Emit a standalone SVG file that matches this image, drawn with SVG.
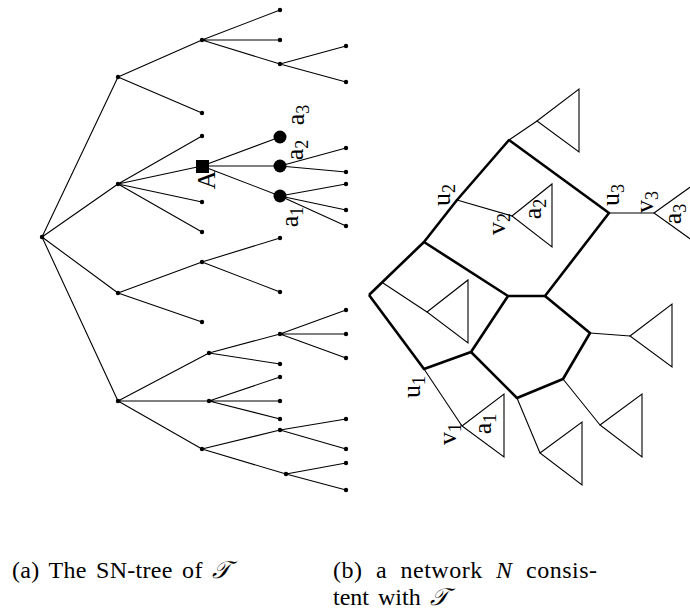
<svg xmlns="http://www.w3.org/2000/svg" width="690" height="612" viewBox="0 0 690 612">
<style>
.e{stroke:#000;stroke-width:1.1;fill:none}
.t{stroke:#000;stroke-width:2.6;fill:none;stroke-linejoin:round}
.tri{stroke:#000;stroke-width:1.1;fill:none}
.d{fill:#000}
.lb{font-family:"Liberation Serif","DejaVu Serif",serif;font-size:26px;fill:#000}
.sb{font-size:18px}
.cap{font-family:"Liberation Serif","DejaVu Serif",serif;font-size:24px;fill:#000}
</style>
<rect width="690" height="612" fill="#fff"/>
<g id="connectors">
<g id="tree-edges" class="e">
<path d="M42 237L118 77M42 237L118 184M42 237L118 293M42 237L118 401"/>
<path d="M118 77L202 40M118 77L202 113M202 40L280 10M202 40L280 40M202 40L280 64M280 64L346 46M280 64L346 82"/>
<path d="M118 184L202 136M118 184L202 166M118 184L202 202M118 184L202 232"/>
<path d="M202 166L280 137M202 166L280 166M202 166L280 196M280 166L346 148M280 166L346 172M280 196L346 184M280 196L346 210M280 196L346 226"/>
<path d="M118 293L202 262M118 293L202 322M202 262L280 238M202 262L280 292"/>
<path d="M118 401L209 353M118 401L209 401M118 401L202 449M209 353L280 334M209 353L280 364M280 334L346 310M280 334L346 334M280 334L346 358"/>
<path d="M209 401L280 377M209 401L280 401M209 401L280 419M202 449L280 430M202 449L286 474M280 430L346 419M280 430L346 449M286 474L346 463M286 474L346 490"/>
</g>
<g id="network-edges">
<path class="t" d="M369 295L424 242L457 200L509 140L609 213L545 296L508 296L424 242"/>
<path class="t" d="M369 295L424 369L471 352L508 296"/>
<path class="t" d="M545 296L590 333L563 379L517 398L471 352"/>
<path class="e" d="M383 283L427 312M509 140L537 121M457 200L512 216M609 213L654 213M590 333L630 336M563 379L600 425M517 398L540 453M424 369L462 426"/>
</g>
</g>
<g id="tree-nodes" class="d">
<g id="root"><circle cx="42" cy="237" r="2.2"/></g>
<g id="n-l1"><circle cx="118" cy="77" r="2.2"/><circle cx="118" cy="184" r="2.2"/><circle cx="118" cy="293" r="2.2"/><circle cx="118" cy="401" r="2.2"/></g>
<g id="n-l2"><circle cx="202" cy="40" r="2.2"/><circle cx="202" cy="113" r="2.2"/><circle cx="202" cy="136" r="2.2"/><circle cx="202" cy="202" r="2.2"/><circle cx="202" cy="232" r="2.2"/><circle cx="202" cy="262" r="2.2"/><circle cx="202" cy="322" r="2.2"/><circle cx="209" cy="353" r="2.2"/><circle cx="209" cy="401" r="2.2"/><circle cx="202" cy="449" r="2.2"/></g>
<g id="n-l3"><circle cx="280" cy="10" r="2.2"/><circle cx="280" cy="40" r="2.2"/><circle cx="280" cy="64" r="2.2"/><circle cx="280" cy="238" r="2.2"/><circle cx="280" cy="292" r="2.2"/><circle cx="280" cy="334" r="2.2"/><circle cx="280" cy="364" r="2.2"/><circle cx="280" cy="377" r="2.2"/><circle cx="280" cy="401" r="2.2"/><circle cx="280" cy="419" r="2.2"/><circle cx="280" cy="430" r="2.2"/><circle cx="286" cy="474" r="2.2"/></g>
<g id="n-l4"><circle cx="346" cy="46" r="2.2"/><circle cx="346" cy="82" r="2.2"/><circle cx="346" cy="148" r="2.2"/><circle cx="346" cy="172" r="2.2"/><circle cx="346" cy="184" r="2.2"/><circle cx="346" cy="210" r="2.2"/><circle cx="346" cy="226" r="2.2"/><circle cx="346" cy="310" r="2.2"/><circle cx="346" cy="334" r="2.2"/><circle cx="346" cy="358" r="2.2"/><circle cx="346" cy="419" r="2.2"/><circle cx="346" cy="449" r="2.2"/><circle cx="346" cy="463" r="2.2"/><circle cx="346" cy="490" r="2.2"/></g>
<g id="node-A"><rect x="196" y="160" width="13" height="13"/><text class="lb" transform="translate(215,180) rotate(-90)" text-anchor="middle">A</text></g>
<g id="node-a3"><circle cx="280" cy="137" r="6.5"/><text class="lb" transform="translate(304,115) rotate(-90)" text-anchor="middle">a<tspan class="sb" dy="5">3</tspan></text></g>
<g id="node-a2"><circle cx="280" cy="166" r="6.5"/><text class="lb" transform="translate(303,150) rotate(-90)" text-anchor="middle">a<tspan class="sb" dy="5">2</tspan></text></g>
<g id="node-a1"><circle cx="280" cy="196" r="6.5"/><text class="lb" transform="translate(298,217) rotate(-90)" text-anchor="middle">a<tspan class="sb" dy="5">1</tspan></text></g>
</g>
<g id="network-nodes">
<g id="tri-left"><polygon class="tri" points="427,312 468,280 468,343"/></g>
<g id="tri-top"><polygon class="tri" points="537,121 579,89 579,152"/></g>
<g id="tri-a2"><polygon class="tri" points="512,216 552,184 552,247"/><text class="lb" transform="translate(541,209) rotate(-90)" text-anchor="middle">a<tspan class="sb" dy="5">2</tspan></text></g>
<g id="tri-a3"><polygon class="tri" points="654,213 696,183 696,243"/><text class="lb" transform="translate(681,214) rotate(-90)" text-anchor="middle">a<tspan class="sb" dy="5">3</tspan></text></g>
<g id="tri-right"><polygon class="tri" points="630,336 672,304 672,367"/></g>
<g id="tri-br"><polygon class="tri" points="600,425 642,394 642,457"/></g>
<g id="tri-bm"><polygon class="tri" points="540,453 582,422 582,485"/></g>
<g id="tri-a1"><polygon class="tri" points="462,426 504,394 504,457"/><text class="lb" transform="translate(491,424) rotate(-90)" text-anchor="middle">a<tspan class="sb" dy="5">1</tspan></text></g>
<g id="u1"><text class="lb" transform="translate(420,387) rotate(-90)" text-anchor="middle">u<tspan class="sb" dy="5">1</tspan></text></g>
<g id="v1"><text class="lb" transform="translate(456,434) rotate(-90)" text-anchor="middle">v<tspan class="sb" dy="5">1</tspan></text></g>
<g id="u2"><text class="lb" transform="translate(450,195) rotate(-90)" text-anchor="middle">u<tspan class="sb" dy="5">2</tspan></text></g>
<g id="v2"><text class="lb" transform="translate(505,224) rotate(-90)" text-anchor="middle">v<tspan class="sb" dy="5">2</tspan></text></g>
<g id="u3"><text class="lb" transform="translate(619,195) rotate(-90)" text-anchor="middle">u<tspan class="sb" dy="5">3</tspan></text></g>
<g id="v3"><text class="lb" transform="translate(653,202) rotate(-90)" text-anchor="middle">v<tspan class="sb" dy="5">3</tspan></text></g>
</g>
<g id="captions">
<text class="cap" x="12" y="578" word-spacing="3" textLength="218" lengthAdjust="spacing">(a) The SN-tree of <tspan font-style="italic">𝒯</tspan></text>
<text class="cap" x="333" y="578" word-spacing="7" textLength="264" lengthAdjust="spacing">(b) a network <tspan font-style="italic">N</tspan> consis-</text>
<text class="cap" x="333" y="605" word-spacing="3">tent with <tspan font-style="italic">𝒯</tspan></text>
</g>
</svg>
